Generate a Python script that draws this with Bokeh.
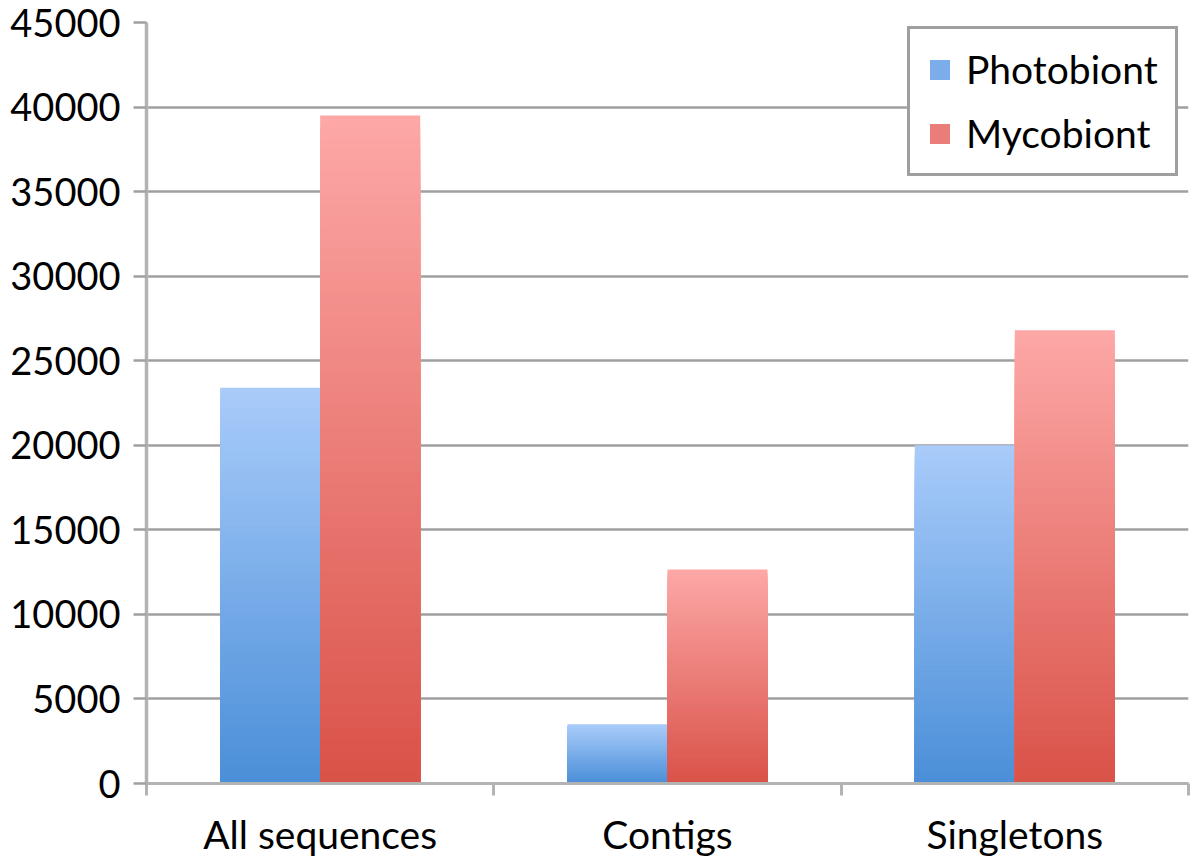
from bokeh.plotting import figure
from bokeh.models import (Range1d, FixedTicker, ColumnDataSource, Legend, LegendItem)
from bokeh.embed import file_html
from bokeh.resources import INLINE

categories = ["All sequences", "Contigs", "Singletons"]
photobiont = [23400, 3500, 20000]
mycobiont = [39500, 12650, 26800]
series_names = ["Photobiont", "Mycobiont"]
y_ticks = [0, 5000, 10000, 15000, 20000, 25000, 30000, 35000, 40000, 45000]

FONT = "Lato"
BAR_W = 0.288
N = 60

# gradients (top colour, bottom colour)
grad = {
    "Photobiont": ((0xa9, 0xcc, 0xfa), (0x4a, 0x8e, 0xd8)),
    "Mycobiont": ((0xfd, 0xa8, 0xa7), (0xd9, 0x52, 0x48)),
}

def hexcol(c):
    return "#%02x%02x%02x" % tuple(int(round(v)) for v in c)

p = figure(width=1200, height=862, output_backend="svg", toolbar_location=None,
           x_range=Range1d(0, len(categories)), y_range=Range1d(0, 45000),
           min_border_left=146, min_border_right=12, min_border_top=22, min_border_bottom=79)
p.outline_line_color = None
p.background_fill_color = "white"

renderers = {}
for name, vals, off in [("Photobiont", photobiont, -BAR_W / 2), ("Mycobiont", mycobiont, BAR_W / 2)]:
    top_c, bot_c = grad[name]
    xs, tops, cols = [], [], []
    for k in range(N - 1, -1, -1):
        t = (k + 0.5) / N
        c = hexcol([bot_c[j] + (top_c[j] - bot_c[j]) * t for j in range(3)])
        for i, v in enumerate(vals):
            xs.append(i + 0.5 + off)
            tops.append(v * (k + 1) / N)
            cols.append(c)
    src = ColumnDataSource(dict(x=xs, top=tops, color=cols))
    p.vbar(x="x", bottom=0, top="top", width=BAR_W, source=src,
           fill_color="color", line_color=None)
    mid = [(bot_c[j] + top_c[j]) / 2 for j in range(3)]
    renderers[name] = p.vbar(x=[-10], top=[1], width=0.1, fill_color=hexcol(mid), line_color=None)

# grid
p.xgrid.grid_line_color = None
p.ygrid.grid_line_color = "#a0a0a0"
p.ygrid.grid_line_width = 2.5

# y axis
p.yaxis.ticker = FixedTicker(ticks=y_ticks)
p.yaxis.axis_line_color = "#b3b3b3"
p.yaxis.axis_line_width = 3.5
p.yaxis.major_tick_line_color = "#a0a0a0"
p.yaxis.major_tick_line_width = 2.5
p.yaxis.major_tick_out = 13
p.yaxis.major_tick_in = 0
p.yaxis.minor_tick_line_color = None
p.yaxis.major_label_standoff = 13
p.yaxis.major_label_text_font = FONT
p.yaxis.major_label_text_font_size = "38px"
p.yaxis.major_label_text_color = "black"

# x axis
p.xaxis.ticker = FixedTicker(ticks=[i + 0.5 for i in range(len(categories))],
                             minor_ticks=list(range(len(categories) + 1)))
p.xaxis.major_label_overrides = {i + 0.5: c for i, c in enumerate(categories)}
p.xaxis.axis_line_color = "#b3b3b3"
p.xaxis.axis_line_width = 3
p.xaxis.major_tick_line_color = None
p.xaxis.minor_tick_line_color = "#b3b3b3"
p.xaxis.minor_tick_line_width = 3
p.xaxis.minor_tick_out = 12
p.xaxis.minor_tick_in = 0
p.xaxis.major_label_standoff = 15
p.xaxis.major_label_text_font = FONT
p.xaxis.major_label_text_font_size = "39px"
p.xaxis.major_label_text_color = "black"

legend = Legend(items=[LegendItem(label=n, renderers=[renderers[n]]) for n in series_names],
                location=(761, 607), margin=0, padding=17, spacing=18,
                glyph_width=25, glyph_height=25, label_height=40, label_standoff=14,
                label_text_font=FONT, label_text_font_size="39px", label_text_color="black",
                border_line_color="#404040", border_line_width=3,
                background_fill_color="white", background_fill_alpha=1.0)
p.add_layout(legend)

open("out.html", "w").write(file_html(p, INLINE))
